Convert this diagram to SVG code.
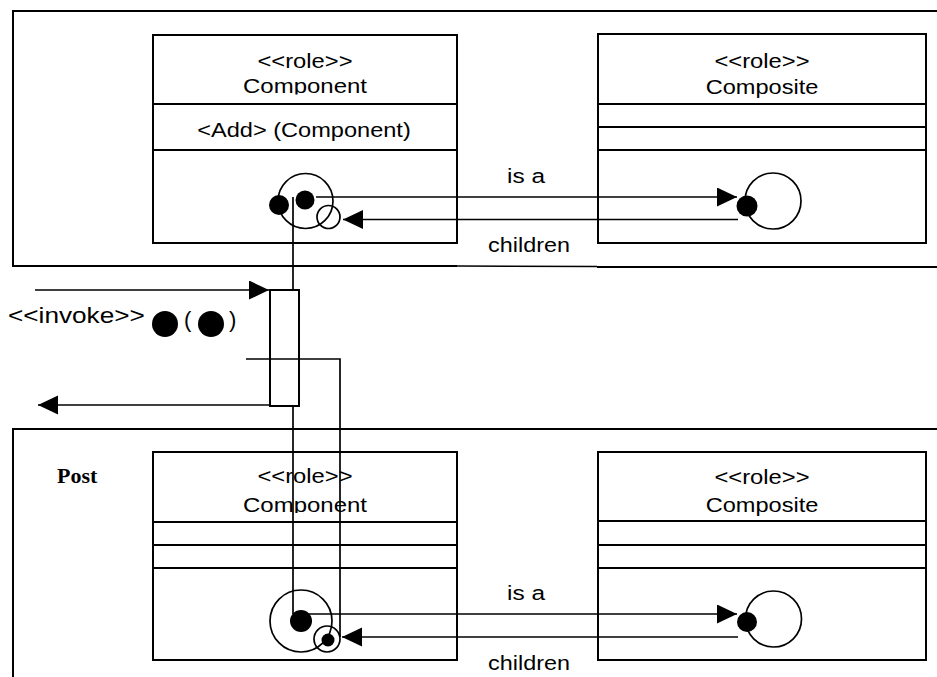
<svg xmlns="http://www.w3.org/2000/svg" width="937" height="677" viewBox="0 0 937 677">
<style>
  .box { fill: #fff; stroke: #000; stroke-width: 2; }
  .div { stroke: #000; stroke-width: 2; fill: none; }
  .frame { stroke: #000; stroke-width: 2; fill: none; }
  .ln { stroke: #000; stroke-width: 1.7; fill: none; }
  .ring { stroke: #000; stroke-width: 1.7; fill: none; }
  .dot { fill: #000; }
  .t { font-family: "Liberation Sans", Arial, sans-serif; font-size: 20.5px; fill: #000; text-anchor: middle; }
  .tl { font-family: "Liberation Sans", Arial, sans-serif; font-size: 22px; fill: #000; }
  .post { font-family: "Liberation Serif", "Times New Roman", serif; font-size: 22px; font-weight: bold; fill: #000; }
</style>
<defs>
  <marker id="arr" markerUnits="userSpaceOnUse" markerWidth="21" markerHeight="20" refX="20" refY="9.5" orient="auto">
    <path d="M0,0 L20,9.5 L0,19 z" fill="#000"/>
  </marker>
  <clipPath id="clipTop"><rect x="153" y="35" width="304" height="59.5"/></clipPath>
  <clipPath id="clipBot"><rect x="153" y="452" width="304" height="61"/></clipPath>
</defs>

<g id="frame-top">
  <polyline class="frame" points="937,11 13,11 13,266 457,266"/>
  <line x1="457" y1="266" x2="597" y2="266.5" stroke="#000" stroke-width="1.4"/>
  <line x1="597" y1="267" x2="937" y2="267" stroke="#000" stroke-width="2"/>
</g>

<g id="frame-bottom">
  <polyline class="frame" points="937,429 13,429 13,677"/>
  <text class="post" x="57" y="483">Post</text>
</g>

<g id="component-top">
  <rect class="box" x="153" y="35" width="304" height="208"/>
  <line class="div" x1="153" y1="104" x2="457" y2="104"/>
  <line class="div" x1="153" y1="150" x2="457" y2="150"/>
  <g clip-path="url(#clipTop)">
    <text class="t" transform="translate(305,68) scale(1.16,1)">&lt;&lt;role&gt;&gt;</text>
    <text class="t" transform="translate(305,93) scale(1.17,1)">Component</text>
  </g>
  <text class="t" transform="translate(304,137) scale(1.15,1)">&lt;Add&gt; (Component)</text>
  <circle class="ring" cx="305.5" cy="201" r="27.5"/>
  <circle class="dot" cx="279" cy="205" r="10"/>
  <circle class="dot" cx="305" cy="200" r="9.5"/>
  <circle class="ring" cx="328.5" cy="217" r="11.5"/>
</g>

<g id="composite-top">
  <rect class="box" x="598" y="34" width="328" height="209"/>
  <line class="div" x1="598" y1="104" x2="926" y2="104"/>
  <line class="div" x1="598" y1="127" x2="926" y2="127"/>
  <line class="div" x1="598" y1="150" x2="926" y2="150"/>
  <text class="t" transform="translate(762,68) scale(1.16,1)">&lt;&lt;role&gt;&gt;</text>
  <text class="t" transform="translate(762,94) scale(1.15,1)">Composite</text>
  <circle class="ring" cx="773" cy="201" r="28"/>
  <circle class="dot" cx="747" cy="206" r="10.5"/>
</g>

<g id="component-bottom">
  <rect class="box" x="153" y="452" width="304" height="208"/>
  <line class="div" x1="153" y1="522" x2="457" y2="522"/>
  <line class="div" x1="153" y1="545" x2="457" y2="545"/>
  <line class="div" x1="153" y1="568" x2="457" y2="568"/>
  <g clip-path="url(#clipBot)">
    <text class="t" transform="translate(305,483) scale(1.16,1)">&lt;&lt;role&gt;&gt;</text>
    <text class="t" transform="translate(305,511.5) scale(1.17,1)">Component</text>
  </g>
</g>

<g id="composite-bottom">
  <rect class="box" x="598" y="452" width="328" height="208"/>
  <line class="div" x1="598" y1="521" x2="926" y2="521"/>
  <line class="div" x1="598" y1="545" x2="926" y2="545"/>
  <line class="div" x1="598" y1="568" x2="926" y2="568"/>
  <text class="t" transform="translate(762,484) scale(1.16,1)">&lt;&lt;role&gt;&gt;</text>
  <text class="t" transform="translate(762,512) scale(1.15,1)">Composite</text>
  <circle class="ring" cx="773.5" cy="619" r="28"/>
  <circle class="dot" cx="747" cy="622" r="10"/>
</g>

<g id="activation">
  <rect class="box" x="270" y="290" width="29" height="116" stroke-width="1.7"/>
</g>

<g id="invoke-label">
  <text class="tl" transform="translate(8,323) scale(1.19,1)">&lt;&lt;invoke&gt;&gt;</text>
  <circle class="dot" cx="165" cy="324" r="13"/>
  <text class="tl" transform="translate(184,327)" font-size="24">(</text>
  <circle class="dot" cx="211" cy="324" r="13"/>
  <text class="tl" transform="translate(229,327)" font-size="24">)</text>
</g>

<g id="connectors">
  <line class="ln" x1="316" y1="197" x2="737" y2="197" marker-end="url(#arr)"/>
  <text class="t" transform="translate(526,183) scale(1.19,1)">is a</text>
  <line class="ln" x1="738" y1="219.5" x2="343" y2="219.5" marker-end="url(#arr)"/>
  <text class="t" transform="translate(529,252) scale(1.14,1)">children</text>
  <line class="ln" x1="293" y1="197" x2="293" y2="290"/>
  <line class="ln" x1="293" y1="406" x2="293" y2="614"/>
  <line class="ln" x1="35" y1="290" x2="269" y2="290" marker-end="url(#arr)"/>
  <line class="ln" x1="270" y1="405" x2="38" y2="405" marker-end="url(#arr)"/>
  <polyline class="ln" points="246,359 340,359 340,637"/>
  <line class="ln" x1="301" y1="614" x2="737" y2="614" marker-end="url(#arr)"/>
  <text class="t" transform="translate(526,600) scale(1.19,1)">is a</text>
  <line class="ln" x1="738" y1="637" x2="342" y2="637" marker-end="url(#arr)"/>
  <text class="t" transform="translate(529,670) scale(1.14,1)">children</text>
  <circle class="ring" cx="301" cy="621" r="31"/>
  <circle class="dot" cx="301" cy="621" r="11"/>
  <circle class="ring" cx="327" cy="639" r="13"/>
  <circle class="dot" cx="328" cy="640" r="6.5"/>
</g>
</svg>
